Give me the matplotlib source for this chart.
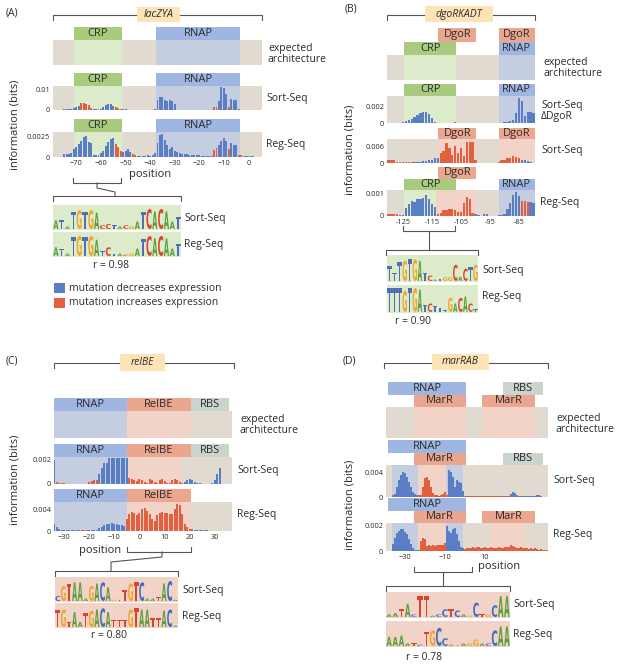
import numpy as np
import matplotlib
matplotlib.use("Agg")
import matplotlib.pyplot as plt
from matplotlib.patches import Rectangle, PathPatch
from matplotlib.textpath import TextPath
from matplotlib.font_manager import FontProperties
from matplotlib.transforms import Affine2D, blended_transform_factory

plt.rcParams['font.family'] = ['Open Sans', 'DejaVu Sans']

W, H = 617, 665

BLUE = "#5a7ec6"
RED = "#e2603f"
TAN = "#e1dad0"
SH_G = "#dcebc9"
SH_B = "#c5cde0"
SH_R = "#f2d3c8"
BOX_G = "#a8cb80"
BOX_B = "#9fb6e2"
BOX_R = "#eba690"
BOX_S = "#c9d4cd"
GENE = "#fde3b6"
# panels A/B and C/D logos use different colour schemes in the source figure
LOGO_AB = {"A": "#5b9f3d", "C": "#d8452f", "G": "#f3a52b", "T": "#4f6fb8"}
LOGO_CD = {"A": "#5b9f3d", "C": "#3f6ec3", "G": "#f3a52b", "T": "#d8452f"}

# ---- information footprints (units of 1e-3 bits), first position given ----
a_start = -79
a_sort = [0, 0, 0, 0,
          0.3, 0.3, 0.4, 0.6, 1.0, 1.5, 2.0,
          3.3, 3.7, 3.0, 2.3, 1.0,
          0.4, 0.3, 0.3, 0.4,
          1.5, 2.5, 3.0, 3.0, 2.2,
          1.5, 1.0, 0.5,
          0.3, 0.3, 0.2, 0.2, 0.15, 0.15, 0.15, 0.15, 0.15, 0.15, 0.15, 0.15, 0.15, 0.3,
          5.0, 6.7, 6.7, 5.0, 4.3, 5.0, 4.3, 3.0,
          0.2, 0.2, 0.2, 0.2, 0.2, 0.2, 0.2, 0.2, 0.2, 0.2, 0.2, 0.2, 0.2, 0.2, 0.2,
          1.5, 1.5, 4.7, 11.7, 11.0, 8.0, 1.3, 5.3, 5.2, 5.0, 0.3, 0.2,
          0.2, 0.2, 0.2, 0.15, 0.15, 0.1, 0.1, 0.1]
a_sort_red = [(-68, -64), (-54, -52), (-14, -13), (-8, -8), (-2, -1)]
a_reg = [0, 0, 0, 0,
         0.42, 0.42, 0.42, 0.45,
         1.0, 1.25, 1.6, 2.0, 2.5, 2.6, 1.9, 1.7,
         0.2, 0.2, 0.25,
         0.5, 0.8, 1.4, 1.9, 2.2, 2.3,
         1.6, 1.2, 0.8,
         0.6, 0.8, 1.0, 0.6,
         0.35, 0.2,
         0.1, 0.1, 0.15, 0.15, 0.2, 0.15, 0.2, 0.5,
         1.7, 2.7, 2.9, 2.1, 1.5, 1.0, 1.25, 0.8, 0.6,
         0.5, 0.4, 0.4, 0.35, 0.3, 0.3, 0.25, 0.2, 0.2, 0.15, 0.15, 0.1, 0.1, 0.15,
         0.9, 1.1, 1.5, 2.0, 2.3, 2.0, 1.0, 1.7, 1.5, 1.5, 0.2, 0.2,
         0.15, 0.15, 0.1, 0.1, 0.1, 0.05, 0.05, 0.05]
a_reg_red = [(-54, -52), (-47, -46), (-14, -13), (-8, -8), (-4, -3)]

b_start = -130
b_ddgor = [0, 0, 0, 0, 0,
           0.1, 0.2, 0.35, 0.5, 0.7, 0.9, 1.15, 1.35, 1.3, 1.1, 0.6, 0.1, 0,
           0, 0, 0, 0, 0,
           0.1,
           0, 0, 0, 0, 0, 0, 0, 0, 0, 0, 0, 0, 0, 0, 0,
           0.05, 0.1, 0.1, 0.2, 0.4, 1.2, 3.0, 2.6, 0.8, 1.3, 1.3, 1.2]
b_ddgor_red = []
b_sort = [1.1, 1.1, 1.0,
          0.4, 0.3, 0.3, 0.25, 0.2, 0.2,
          0.3, 0.4, 0.5, 0.6, 0.8, 1.0, 1.2, 1.6, 1.8,
          3.5, 4.1, 7.1, 5.3, 2.9, 5.9, 3.5, 5.3, 2.4, 7.6, 7.4, 7.4, 1.2,
          0.1, 0.1, 0.1, 0.05, 0.1, 0.1, 0.05,
          0.5, 0.9, 1.2, 1.8, 1.6, 2.4, 2.1, 1.9,
          1.2, 1.2, 0.8, 0.3, 0.1]
b_sort_red = [(-130, -122), (-112, -100), (-92, -85)]
b_reg = [0.1, 0.1, 0.08, 0.1, 0.05,
         0.05,
         0.35, 0.55, 0.7, 0.65, 0.75, 0.75, 0.8, 0.95, 0.75, 0.55, 0.4,
         0.1, 0.15, 0.25, 0.25, 0.3, 0.3, 0.28, 0.2,
         0.2, 0.6, 0.85, 0.75, 0.15,
         0.1, 0.05, 0,
         0.1, 0.1, 0,
         0, 0, 0.05,
         0.05, 0.1, 0.3, 0.6, 0.95, 1.1, 0.9, 0.7, 0.7, 0.65, 0.65, 0.6]
b_reg_red = [(-130, -126), (-113, -101), (-84, -82)]

c_start = -34
c_sort = [1.9,
          0.15, 0.1, 0.08, 0.05,
          0.03, 0.03, 0.03, 0.03, 0.03, 0.03, 0.03, 0.03, 0.03,
          0.2, 0.25, 0.3, 0.35,
          0.8, 1.3, 1.7, 1.7, 2.1, 2.1, 2.1, 2.1, 2.1, 2.1, 2.1, 2.1,
          0.45, 0.4, 0.3, 0.25, 0.4, 0.35, 0.15, 0.1, 0.4, 0.35, 0.2, 0.1, 0.3, 0.4,
          0.25, 0.1, 0.05, 0.3, 0.4, 0.35, 0.15, 0.05,
          0.2, 0.35, 0.4, 0.3, 0.15,
          0.05, 0.05, 0.03, 0.03, 0.03, 0.03, 0.05,
          0.3, 0.8, 1.25,
          0, 0, 0, 0]
c_sort_red = [(-33, -30), (-20, -17), (-4, 17)]
c_reg = [1.3, 0.8,
         0.3, 0.25, 0.2, 0.2,
         0.1, 0.1, 0.1, 0.1, 0.2, 0.25, 0.2, 0.1, 0.1, 0.1, 0.15, 0.2,
         0.5, 0.8, 1.1, 1.3, 1.4, 1.45, 1.4, 1.3, 1.2, 1.1, 0.9,
         2.3, 3.3, 3.6, 3.4, 3.0, 3.4, 4.2, 4.4, 3.8, 3.3, 2.2, 1.9, 3.0, 3.4, 3.6,
         3.5, 3.5, 3.3, 3.2, 4.2, 5.2, 4.9, 3.2, 1.4, 0.8,
         0.4, 0.3, 0.2, 0.15, 0.1, 0.1, 0.1, 0.1, 0.08, 0.08, 0.08, 0.05, 0.05, 0.05,
         0.05, 0.05, 0.05]
c_reg_red = [(-24, -22), (-5, 21)]

d_start = -39
d_sort = [0, 0, 0,
          0.3, 0.5,
          1.7, 2.8, 3.6, 4.2, 3.9, 3.3, 2.5, 1.7,
          0.8, 0.5, 0.4,
          0.3, 0.3,
          1.7, 3.1, 3.3, 2.8, 1.7,
          0.6, 0.4, 0.3,
          0.2, 0.3, 0.5, 0.8,
          0.3,
          4.4, 4.2, 3.3, 1.7, 2.8, 2.5, 2.4, 1.0,
          0.1,
          0.1, 0.1, 0.15, 0.1, 0.1, 0.15, 0.1, 0.1, 0.1, 0.15, 0.1, 0.1, 0.1, 0.1, 0.15,
          0.1, 0.1, 0.1, 0.15, 0.1, 0.1, 0.1,
          0.5, 0.8, 0.6, 0.3,
          0.2, 0.15, 0.15, 0.2, 0.1, 0.1, 0.15, 0.1,
          0.1, 0.3, 0.4, 0.1,
          0, 0, 0]
d_sort_red = [(-36, -36), (-23, -9), (1, 22), (26, 26)]
d_reg = [0, 0, 0,
         0.52, 1.04, 1.43, 1.56, 1.74, 1.69, 1.5, 1.3, 0.91, 0.52, 0.26,
         0.1, 0.1, 0.1,
         0.8, 1.0, 0.9,
         0.4, 0.45, 0.4, 0.45, 0.4, 0.5, 0.45, 0.45, 0.5, 0.6,
         1.95, 1.56, 1.43, 1.69, 1.82, 1.3, 0.78, 0.3, 0.2,
         0.15, 0.2, 0.25, 0.2, 0.3, 0.25, 0.35, 0.3, 0.2, 0.25, 0.3, 0.2, 0.25, 0.3,
         0.2, 0.2, 0.25, 0.3, 0.2, 0.25, 0.3, 0.35, 0.3, 0.45, 0.4, 0.3, 0.2, 0.25,
         0.3, 0.2, 0.25, 0.2, 0.15, 0.2, 0.15, 0.2, 0.15, 0.1, 0.15, 0.1, 0.1, 0.1]
d_reg_red = [(-22, -10), (0, 41)]

# ---- sequence logos: letters and relative heights ----
a_logo_sort = "ATATGTGACCTACGATCACAAT"
a_logo_sort_h = [0.35, 0.35, 0.1, 0.7, 0.75, 0.7, 0.75, 0.65, 0.15, 0.2, 0.15,
                 0.1, 0.15, 0.1, 0.3, 0.7, 0.8, 0.7, 0.8, 0.7, 0.3, 0.5]
a_logo_reg = "ATATGTGATCTACGATCACAAT"
a_logo_reg_h = [0.35, 0.3, 0.1, 0.75, 0.8, 0.75, 0.8, 0.65, 0.2, 0.35, 0.1,
                0.1, 0.05, 0.1, 0.3, 0.7, 0.8, 0.7, 0.8, 0.7, 0.3, 0.5]
b_logo_sort = "TTTGTGATCATGGCACTG"
b_logo_sort_h = [0.55, 0.3, 0.7, 0.75, 0.8, 0.8, 0.75, 0.3, 0.2, 0.05, 0.08,
                 0.15, 0.15, 0.6, 0.15, 0.45, 0.5, 0.6]
b_logo_reg = "TTTGTGATCTTTGACACT"
b_logo_reg_h = [0.85, 0.85, 0.85, 0.75, 0.85, 0.85, 0.8, 0.25, 0.3, 0.2, 0.15,
                0.05, 0.5, 0.3, 0.5, 0.55, 0.3, 0.1]
c_logo_sort = "CGTAAAGACAGTTGTCAATACA"
c_logo_sort_h = [0.2, 0.6, 0.7, 0.75, 0.75, 0.1, 0.6, 0.7, 0.75, 0.55, 0.05,
                 0.05, 0.45, 0.7, 0.75, 0.75, 0.1, 0.1, 0.15, 0.7, 0.8, 0.05]
c_logo_reg = "TGTAATGACATTTGTAATTACA"
c_logo_reg_h = [0.7, 0.7, 0.2, 0.6, 0.2, 0.55, 0.65, 0.7, 0.75, 0.6, 0.3,
                0.3, 0.3, 0.7, 0.75, 0.7, 0.7, 0.35, 0.35, 0.65, 0.7, 0.05]
d_logo_sort = "AATACTTACCTCAGCTGCAA"
d_logo_sort_h = [0.1, 0.15, 0.3, 0.5, 0.1, 0.8, 0.8, 0.05, 0.1, 0.3, 0.3, 0.25,
                 0.1, 0.05, 0.55, 0.1, 0.1, 0.45, 0.8, 0.8]
d_logo_reg = "AAAATCTGCCATAGGACCAA"
d_logo_reg_h = [0.35, 0.35, 0.4, 0.1, 0.1, 0.05, 0.55, 0.6, 0.7, 0.3, 0.05,
                0.05, 0.1, 0.1, 0.25, 0.1, 0.1, 0.6, 0.75, 0.75]

fig = plt.figure(figsize=(W / 100, H / 100), dpi=100)
ov = fig.add_axes([0, 0, 1, 1])
ov.set_xlim(0, W)
ov.set_ylim(H, 0)
ov.axis('off')

FS = 7.5
BFS = 8
TXT = "#2b2b2b"


def ax_px(x, y, w, h):
    return fig.add_axes([x / W, 1 - (y + h) / H, w / W, h / H])


def label(x, y, s, **kw):
    kw.setdefault('fontsize', FS)
    kw.setdefault('va', 'center')
    kw.setdefault('color', TXT)
    ov.text(x, y, s, **kw)


def bracket(x0, x1, y, up=False, d=5):
    e = y - d if up else y + d
    ov.plot([x0, x0, x1, x1], [e, y, y, e], color="#555555", lw=0.8,
            solid_joinstyle='miter')


def gene(x, y, w, h, name, y_br, x0, x1):
    bracket(x0, x1, y_br)
    ov.add_patch(Rectangle((x, y), w, h, color=GENE, lw=0, zorder=3))
    ov.text(x + w / 2, y + h / 2, name, style='italic', ha='center', va='center',
            fontsize=FS, color=TXT, zorder=4)


def track(rect, xlim, ymax, vals=None, start=0, reds=(), shade=(), boxes=(),
          ytick=None, bh=12.5):
    x, y, w, h = rect
    ax = ax_px(x, y, w, h)
    ax.set_facecolor(TAN)
    ax.set_xlim(*xlim)
    ax.set_ylim(0, ymax)
    for a, b, c in shade:
        ax.axvspan(a, b, color=c, lw=0, zorder=0)
    if vals is not None:
        pos = np.arange(start, start + len(vals))
        cols = [RED if any(a <= p <= b for a, b in reds) else BLUE for p in pos]
        ax.bar(pos, vals, width=0.8, color=cols, lw=0, zorder=2)
    tr = blended_transform_factory(ax.transData, ax.transAxes)
    f = bh / h
    for a, b, row, lab, c in boxes:
        ax.add_patch(Rectangle((a, 1 + row * f), b - a, f, transform=tr,
                               color=c, lw=0, clip_on=False))
        ax.text((a + b) / 2, 1 + (row + 0.5) * f, lab, transform=tr, ha='center',
                va='center', fontsize=BFS, color=TXT)
    for s in ax.spines.values():
        s.set_visible(False)
    ax.tick_params(length=0, labelsize=5.3, pad=2, colors=TXT)
    ax.set_xticks([])
    if ytick:
        ax.set_yticks([0, ytick[0]], ["0", ytick[1]])
    else:
        ax.set_yticks([])
    return ax


def logo(rect, letters, heights, bg, cmap):
    ax = ax_px(*rect)
    ax.set_facecolor(bg)
    ax.set_xlim(0, len(letters))
    ax.set_ylim(0, 1)
    ax.set_xticks([])
    ax.set_yticks([])
    for s in ax.spines.values():
        s.set_visible(False)
    fp = FontProperties(family='DejaVu Sans', weight='bold')
    for i, (ch, hh) in enumerate(zip(letters, heights)):
        tp = TextPath((0, 0), ch, size=1, prop=fp)
        bb = tp.get_extents()
        t = (Affine2D().translate(-bb.x0, -bb.y0)
             .scale(0.88 / bb.width, hh / bb.height).translate(i + 0.06, 0.04))
        ax.add_patch(PathPatch(t.transform_path(tp), color=cmap[ch], lw=0))
    return ax


def xt(ax, ticks, minus='\u2212'):
    ax.set_xticks(ticks, [str(t).replace('-', minus) for t in ticks])
    ax.tick_params(axis='x', pad=2)


# ================= (A) lacZYA =================
label(6, 13, "(A)")
gene(137, 7, 43, 15, "lacZYA", 15, 53, 262)
A_X = (-79.5, 5.5)
crp, rnap = (-71, -51.3), (-37.5, -3.4)
shA = [(*crp, SH_G), (*rnap, SH_B)]
bxA = [(*crp, 0, "CRP", BOX_G), (*rnap, 0, "RNAP", BOX_B)]
track((53, 40, 209, 25), A_X, 1, shade=shA, boxes=bxA, bh=13)
label(268, 54, "expected\narchitecture", linespacing=1.05)
track((53, 86, 209, 24), A_X, 12, a_sort, a_start, a_sort_red, shA, bxA,
      (10, "0.01"), bh=13)
label(266, 98, "Sort-Seq")
axA = track((53, 132, 209, 25), A_X, 3.1, a_reg, a_start, a_reg_red, shA, bxA,
            (2.5, "0.0025"), bh=13)
xt(axA, [-70, -60, -50, -40, -30, -20, -10, 0])
label(266, 144, "Reg-Seq")
label(15, 125, "information (bits)", rotation=90, ha='center', fontsize=8)
label(150, 174, "position", ha='center', fontsize=8)
bracket(73, 121, 183, up=True)
ov.plot([97, 97, 115, 115], [183, 188, 192, 196], color="#555555", lw=0.8)
bracket(53, 181, 196)
logo((53, 205, 128, 25), a_logo_sort, a_logo_sort_h, SH_G, LOGO_AB)
logo((53, 232, 128, 25), a_logo_reg, a_logo_reg_h, SH_G, LOGO_AB)
label(184, 218, "Sort-Seq")
label(184, 244, "Reg-Seq")
label(111, 266, "r = 0.98", ha='center')
ov.add_patch(Rectangle((54, 283), 11, 10, color=BLUE, lw=0))
ov.add_patch(Rectangle((54, 298), 11, 10, color=RED, lw=0))
label(69, 288, "mutation decreases expression")
label(69, 303, "mutation increases expression")

# ================= (B) dgoRKADT =================
label(345, 9, "(B)")
gene(425, 6, 68, 16, "dgoRKADT", 15, 387, 535)
B_X = (-130.5, -79.5)
crpB, dgo1, dgo2 = (-124.5, -106.6), (-112.8, -99.7), (-92, -79.5)
track((387, 55, 148, 25), B_X, 1, shade=[(*crpB, SH_G), (*dgo2, SH_B)],
      boxes=[(*crpB, 0, "CRP", BOX_G), (*dgo2, 0, "RNAP", BOX_B),
             (*dgo1, 1, "DgoR", BOX_R), (*dgo2, 1, "DgoR", BOX_R)], bh=13.5)
label(543, 68, "expected\narchitecture", linespacing=1.05)
track((387, 96, 148, 27), B_X, 3.18, b_ddgor, b_start, b_ddgor_red,
      [(*crpB, SH_G), (*dgo2, SH_B)],
      [(*crpB, 0, "CRP", BOX_G), (*dgo2, 0, "RNAP", BOX_B)], (2, "0.002"), bh=12)
label(541, 111, "Sort-Seq\n\u0394DgoR", linespacing=1.1)
track((387, 139, 148, 24), B_X, 8.5, b_sort, b_start, b_sort_red,
      [(*dgo1, SH_R), (*dgo2, SH_R)],
      [(*dgo1, 0, "DgoR", BOX_R), (*dgo2, 0, "DgoR", BOX_R)], (6, "0.006"), bh=11.5)
label(541, 150, "Sort-Seq")
axB = track((387, 190, 148, 26), B_X, 1.18, b_reg, b_start, b_reg_red,
            [(-124.5, -113.5, SH_G), (-113.5, -99.7, SH_R), (*dgo2, SH_B)],
            [(*crpB, 0, "CRP", BOX_G), (*dgo2, 0, "RNAP", BOX_B),
             (*dgo1, 1, "DgoR", BOX_R)], (1, "0.001"), bh=11.5)
xt(axB, [-125, -115, -105, -95, -85], minus='-')
label(540, 203, "Reg-Seq")
label(350, 150, "information (bits)", rotation=90, ha='center', fontsize=8)
bracket(403, 455, 231, up=True)
ov.plot([429, 429], [231, 250], color="#555555", lw=0.8)
bracket(386, 478, 250)
logo((387, 255, 91, 27), b_logo_sort, b_logo_sort_h, SH_G, LOGO_AB)
logo((387, 285, 91, 28), b_logo_reg, b_logo_reg_h, SH_G, LOGO_AB)
label(482, 270, "Sort-Seq")
label(482, 297, "Reg-Seq")
label(413, 322, "r = 0.90", ha='center')

# ================= (C) relBE =================
label(6, 361, "(C)")
gene(120, 354, 45, 17, "relBE", 363, 54, 234)
C_X = (-34, 36.8)
rnC, reC, rbC = (-34, -5), (-5, 20.5), (20.5, 35.5)
bxC = [(*rnC, 0, "RNAP", BOX_B), (*reC, 0, "RelBE", BOX_R), (*rbC, 0, "RBS", BOX_S)]
track((54, 411, 178, 27), C_X, 1, shade=[(*rnC, SH_B), (*reC, SH_R)], boxes=bxC, bh=13)
label(240, 425, "expected\narchitecture", linespacing=1.05)
track((54, 457, 178, 27), C_X, 2.16, c_sort, c_start, c_sort_red,
      [(*rnC, SH_B), (-5, 17, SH_R)], bxC, (2, "0.002"), bh=13)
label(237, 470, "Sort-Seq")
axC = track((54, 502, 178, 29), C_X, 5.5, c_reg, c_start, c_reg_red,
            [(*rnC, SH_B), (*reC, SH_R)], bxC[:2], (4, "0.004"), bh=13)
xt(axC, [-30, -20, -10, 0, 10, 20, 30])
label(237, 515, "Reg-Seq")
label(15, 480, "information (bits)", rotation=90, ha='center', fontsize=8)
label(100, 550, "position", ha='center', fontsize=8)
bracket(127, 191, 552, up=True)
ov.plot([162, 162, 111, 111], [552, 557, 562, 571], color="#555555", lw=0.8)
bracket(55, 178, 571)
logo((55, 577, 123, 25), c_logo_sort, c_logo_sort_h, SH_R, LOGO_CD)
logo((55, 603, 123, 25), c_logo_reg, c_logo_reg_h, SH_R, LOGO_CD)
label(182, 590, "Sort-Seq")
label(182, 616, "Reg-Seq")
label(109, 636, "r = 0.80", ha='center')

# ================= (D) marRAB =================
label(343, 361, "(D)")
gene(432, 354, 57, 16, "marRAB", 363, 384, 548)
D_X = (-39.5, 41.5)
rnD, m1, m2, rbD = (-38.5, 0.5), (-25.5, 0.5), (8.5, 35), (19, 39)
shD = [(-36.5, -23.5, SH_B), (-23.5, -9.5, SH_R), (-9.5, -1, SH_B)]
track((386, 407, 162, 31), D_X, 1, shade=[(*m1, SH_R), (*m2, SH_R)],
      boxes=[(*m1, 0, "MarR", BOX_R), (*m2, 0, "MarR", BOX_R),
             (*rnD, 1, "RNAP", BOX_B), (*rbD, 1, "RBS", BOX_S)], bh=12.5)
label(556, 424, "expected\narchitecture", linespacing=1.05)
track((386, 465, 162, 32), D_X, 5.3, d_sort, d_start, d_sort_red, shD,
      [(*m1, 0, "MarR", BOX_R), (*rbD, 0, "RBS", BOX_S),
       (*rnD, 1, "RNAP", BOX_B)], (4, "0.004"), bh=12.5)
label(553, 480, "Sort-Seq")
axD = track((386, 523, 162, 28), D_X, 2.18, d_reg, d_start, d_reg_red,
            shD + [(12.5, 30, SH_R)],
            [(*m1, 0, "MarR", BOX_R), (*m2, 0, "MarR", BOX_R),
             (*rnD, 1, "RNAP", BOX_B)], (2, "0.002"), bh=12.5)
xt(axD, [-30, -10, 10])
label(553, 535, "Reg-Seq")
label(350, 505, "information (bits)", rotation=90, ha='center', fontsize=8)
label(499, 567, "position", ha='center', fontsize=8)
bracket(414, 472, 572, up=True)
ov.plot([443, 443], [572, 586], color="#555555", lw=0.8)
bracket(386, 510, 586)
logo((386, 592, 124, 26), d_logo_sort, d_logo_sort_h, SH_R, LOGO_CD)
logo((386, 621, 124, 26), d_logo_reg, d_logo_reg_h, SH_R, LOGO_CD)
label(513, 605, "Sort-Seq")
label(513, 634, "Reg-Seq")
label(424, 658, "r = 0.78", ha='center')

fig.savefig("out.png", dpi=100)
